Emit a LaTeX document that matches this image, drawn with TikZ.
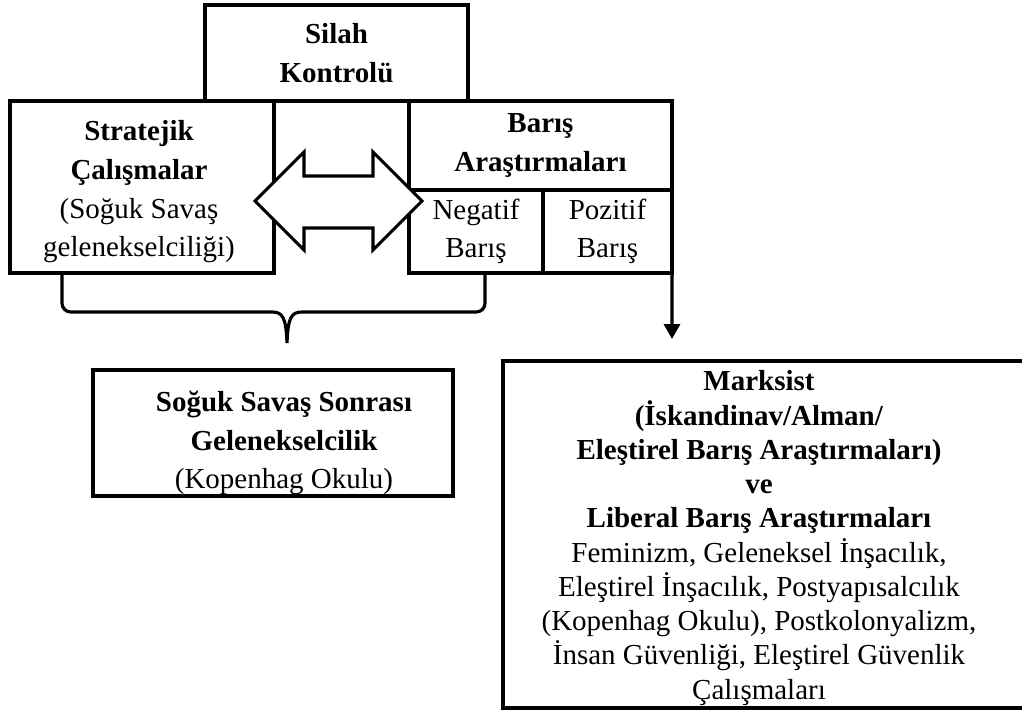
\documentclass[tikz,border=0pt]{standalone}
\usepackage{fontspec}
\setmainfont{Liberation Serif}
\usetikzlibrary{arrows.meta}
\tikzset{
  box/.style={draw, line width=1.8pt, align=center, inner sep=0pt, outer sep=0pt,
    font=\fontsize{16.5}{22}\selectfont},
  txt/.style={align=center, inner sep=0pt, font=\fontsize{16.5}{22}\selectfont},
  line/.style={line width=1.8pt}
}
\begin{document}
\begin{tikzpicture}[x=0.02cm,y=-0.02cm]
\useasboundingbox (0,0) rectangle (1022,711);

\node [box, minimum width=5.26cm, minimum height=1.92cm] (silah) at (336.5,53) {\textbf{Silah}\\\textbf{Kontrolü}};
\node [box, minimum width=5.28cm, minimum height=3.44cm] (strat) at (142,187) {};
\node [txt] (stratTxt) at (139,192) {\textbf{Stratejik}\\\textbf{Çalışmalar}\\(Soğuk Savaş\\gelenekselciliği)};
\node [box, minimum width=5.26cm, minimum height=1.78cm] (baris) at (540.5,145.5) {\textbf{Barış}\\\textbf{Araştırmaları}};
\node [box, minimum width=2.68cm, minimum height=1.66cm] (neg) at (476,231.5) {Negatif\\Barış};
\node [box, minimum width=2.58cm, minimum height=1.66cm] (poz) at (607.5,231.5) {Pozitif\\Barış};

% double arrow between the two schools
\draw [line, fill=white] (255,201) -- (304,152) -- (304,176) -- (373,176) -- (373,152) -- (422,201)
  -- (373,250) -- (373,228) -- (304,228) -- (304,250) -- cycle;

% brace under the two boxes
\coordinate (brL) at (62,273);
\coordinate (brR) at (485,273);
\coordinate (brTip) at (287,343);
\draw [line, rounded corners=5pt] (brL) -- (62,312) -- (272,312);
\draw [line] (272,312) .. controls (283,312) and (286,318) .. (brTip)
  .. controls (288,318) and (291,312) .. (302,312);
\draw [line, rounded corners=5pt] (302,312) -- (485,312) -- (brR);

\node [box, minimum width=7.2cm, minimum height=2.52cm] (soguk) at (273,433) {};
\node [txt] (sogukTxt) at (284,443) {\textbf{Soğuk Savaş Sonrası}\\\textbf{Gelenekselcilik}\\(Kopenhag Okulu)};

\node [box, minimum width=10.54cm, minimum height=6.94cm] (marks) at (766.5,534.5) {};
\node [txt, font=\fontsize{16.5}{19.5}\selectfont] (marksTxt) at (759,538)
  {\textbf{Marksist}\\\textbf{(İskandinav/Alman/}\\\textbf{Eleştirel Barış Araştırmaları)}\\\textbf{ve}\\\textbf{Liberal Barış Araştırmaları}\\
   Feminizm, Geleneksel İnşacılık,\\Eleştirel İnşacılık, Postyapısalcılık\\(Kopenhag Okulu), Postkolonyalizm,\\İnsan Güvenliği, Eleştirel Güvenlik\\Çalışmaları};

\coordinate (arrEnd) at (672,339);
\draw [line, -{Triangle[length=0.3cm, width=0.32cm]}] (poz.south east) -- (arrEnd);
\end{tikzpicture}
\end{document}
